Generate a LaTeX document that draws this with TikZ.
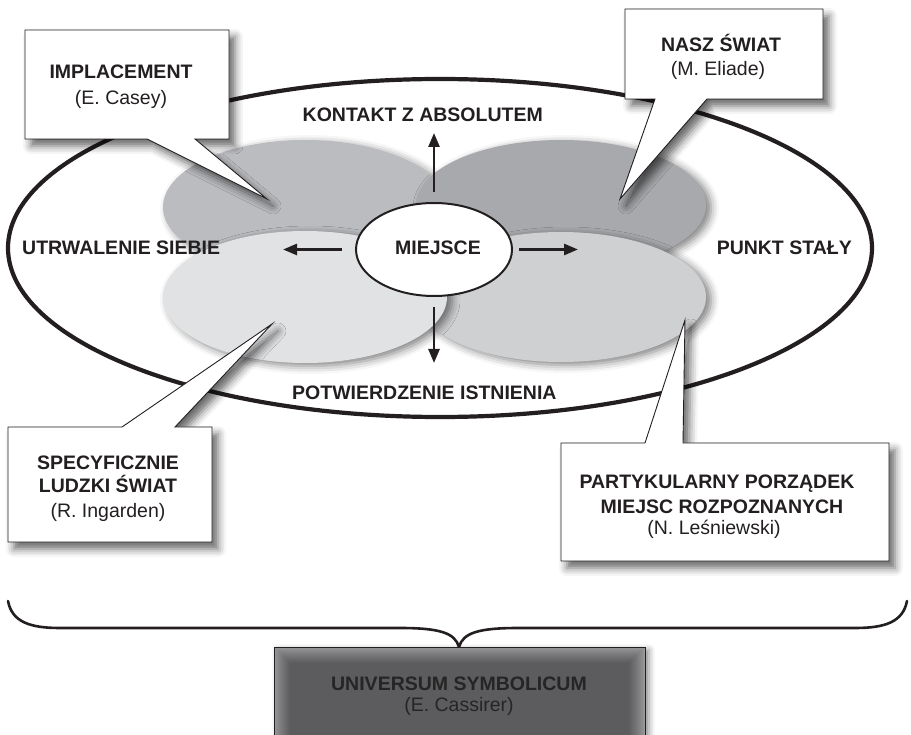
\documentclass[tikz,border=0pt]{standalone}
\usepackage{fontspec}
\setmainfont{Liberation Sans}
\usetikzlibrary{shapes.geometric,arrows.meta,shadows.blur}
\definecolor{ink}{HTML}{231F20}
\definecolor{tlc}{HTML}{BBBCBF}
\definecolor{trc}{HTML}{A8A9AC}
\definecolor{brc}{HTML}{CFD0D2}
\definecolor{blc}{HTML}{E1E2E4}
\definecolor{boxlight}{HTML}{9A9A9C}
\definecolor{boxdark}{HTML}{5C5C5E}
\definecolor{boxtext}{HTML}{252526}
\begin{document}
\begin{tikzpicture}[x=1pt,y=-1pt,
  lbl/.style={font=\fontsize{19.5}{24}\selectfont\bfseries, text=ink, inner sep=0pt},
  sub/.style={font=\fontsize{19.5}{24}\selectfont, text=ink, inner sep=0pt},
  frame/.style={ellipse, draw=ink, line width=4.2pt, inner sep=0pt},
  blob/.style={ellipse, draw=none, inner sep=0pt,
    blur shadow={shadow xshift=5pt, shadow yshift=-3pt, shadow blur radius=8pt, shadow opacity=50}},
  callout/.style={fill=white, draw=ink, line width=0.9pt, line join=miter,
    blur shadow={shadow xshift=6pt, shadow yshift=-7pt, shadow blur radius=8pt, shadow opacity=60}},
  arr/.style={draw=ink, line width=2.6pt, -{Triangle[length=14pt,width=11pt]}},
  bracestyle/.style={draw=ink, line width=2.6pt, line cap=round}
]
\useasboundingbox (0,0) rectangle (911,735);

% outer frame
\node[frame, minimum width=864pt, minimum height=338pt] (frame) at (440,248) {};

% grey blobs
\node[blob, fill=tlc, minimum width=284pt, minimum height=134pt] (tl) at (305,207) {};
\node[blob, fill=trc, minimum width=290pt, minimum height=130pt] (tr) at (561,205) {};
\node[blob, fill=brc, minimum width=290pt, minimum height=130pt] (br) at (561,297) {};
\node[blob, fill=blc, minimum width=284pt, minimum height=132pt] (bl) at (305,297) {};

% centre
\node[ellipse, draw=ink, line width=2pt, fill=white, inner sep=0pt,
      minimum width=156pt, minimum height=93pt] (m) at (434,249.5) {};
\node[lbl] (mlabel) at (438,248) {MIEJSCE};

\coordinate (upT) at (434,133);
\coordinate (downT) at (434,363);
\coordinate (leftT) at (283,249.5);
\coordinate (rightT) at (578,249.5);
\draw[arr, shorten <=10pt] (m) -- (upT);
\draw[arr, shorten <=10pt] (m) -- (downT);
\draw[arr, shorten <=13pt] (m) -- (leftT);
\draw[arr, shorten <=6pt] (m) -- (rightT);

\node[lbl, anchor=east] (kontakt) at (543,115) {KONTAKT Z ABSOLUTEM};
\node[lbl, anchor=west] (potw) at (292,392.5) {POTWIERDZENIE ISTNIENIA};
\node[lbl, anchor=west] (utrw) at (22,247.5) {UTRWALENIE SIEBIE};
\node[lbl, anchor=east] (punkt) at (852,247.5) {PUNKT STAŁY};

% callouts
\path[callout] (25,30) -- (229,30) -- (229,139) -- (195,139) -- (267,199) -- (147,139) -- (25,139) -- cycle;
\node[lbl, anchor=base] (imp1) at (121,78.5) {IMPLACEMENT};
\node[sub, anchor=base] (imp2) at (121,105) {(E. Casey)};

\path[callout] (625,9) -- (823,9) -- (823,99) -- (707,99) -- (620,199) -- (655,99) -- (625,99) -- cycle;
\node[lbl, anchor=base] (nasz1) at (721,51.7) {NASZ ŚWIAT};
\node[sub, anchor=base] (nasz2) at (718,76) {(M. Eliade)};

\path[callout] (8,427) -- (122,427) -- (272,324) -- (175,427) -- (212,427) -- (212,542) -- (8,542) -- cycle;
\node[lbl, anchor=base] (spec1) at (108,469) {SPECYFICZNIE};
\node[lbl, anchor=base] (spec2) at (108,493) {LUDZKI ŚWIAT};
\node[sub, anchor=base] (spec3) at (108,517) {(R. Ingarden)};

\path[callout] (561,443) -- (645,443) -- (685,320) -- (683,443) -- (889,443) -- (889,561) -- (561,561) -- cycle;
\node[lbl, anchor=base] (part1) at (717,488) {PARTYKULARNY PORZĄDEK};
\node[lbl, anchor=base] (part2) at (722,513) {MIEJSC ROZPOZNANYCH};
\node[sub, anchor=base] (part3) at (714,534.5) {(N. Leśniewski)};

% brace
\draw[bracestyle] (8,601) .. controls (12,622) and (30,628) .. (60,628) -- (400,628)
   .. controls (440,628) and (455,633) .. (459,647)
   .. controls (463,633) and (478,628) .. (518,628) -- (855,628)
   .. controls (885,628) and (903,622) .. (907,601);

% bottom box
\fill[boxlight, blur shadow={shadow xshift=4pt, shadow yshift=-3pt, shadow blur radius=6pt, shadow opacity=45}] (274,647) rectangle (645,760);
\foreach \i in {1,...,16} {
  \pgfmathsetmacro\p{100*(\i/16)^0.8}
  \fill[boxdark!\p!boxlight] ({274+\i},{647+\i}) rectangle ({645-\i},760);
}
\draw[ink, line width=0.9pt] (274,740) -- (274,647) -- (645,647) -- (645,740);
\node[lbl, text=boxtext, anchor=base] (univ1) at (459,690) {UNIVERSUM SYMBOLICUM};
\node[sub, text=boxtext, anchor=base] (univ2) at (459,711) {(E. Cassirer)};
\end{tikzpicture}
\end{document}
